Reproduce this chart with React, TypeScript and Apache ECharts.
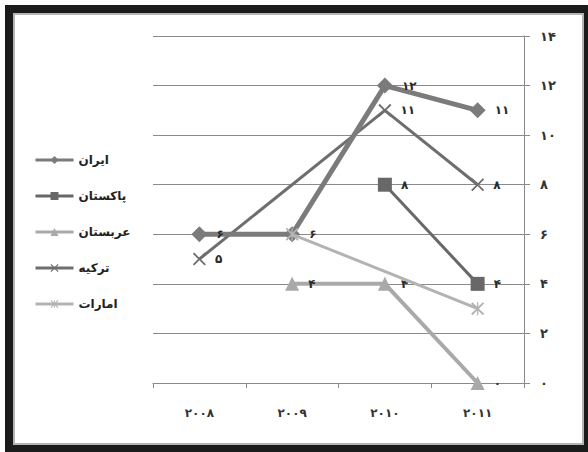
import React, { useEffect, useRef } from "react";
import * as echarts from "echarts";

const categories = ["2008", "2009", "2010", "2011"];
const seriesNames = ["ایران", "پاکستان", "عربستان", "ترکیه", "امارات"];
const iran = [6, 6, 12, 11];
const pakistan = [null, null, 8, 4];
const arabia = [null, 4, 4, 0];
const turkey = [5, null, 11, 8];
const emirates = [null, 6, null, 3];
const yTicks = [0, 2, 4, 6, 8, 10, 12, 14];

const fa = (v: number | string) =>
  String(v).replace(/[0-9]/g, (d) => "۰۱۲۳۴۵۶۷۸۹"[Number(d)]);

const FONT = "DejaVu Sans";
const X_PATH =
  "path://M2,0L10,8L18,0L20,2L12,10L20,18L18,20L10,12L2,20L0,18L8,10L0,2Z";
const STAR_PATH =
  "path://M2,0L10,8L18,0L20,2L12,10L20,18L18,20L10,12L2,20L0,18L8,10L0,2ZM9,0L11,0L11,20L9,20Z";

export default function App() {
  const ref = useRef<HTMLDivElement>(null);
  useEffect(() => {
    document.body.style.margin = "0";
    const chart = echarts.init(ref.current!, null, { renderer: "svg" });
    const mk = (
      name: string,
      data: (number | null)[],
      color: string,
      width: number,
      symbol: string,
      size: number,
      z: number,
      showLabels: boolean
    ) => ({
      name,
      type: "line",
      data,
      connectNulls: true,
      symbol,
      symbolSize: size,
      z,
      lineStyle: { color, width },
      itemStyle: { color, borderColor: color, borderWidth: 0 },
      label: {
        show: showLabels,
        position: "right",
        distance: 9,
        fontFamily: FONT,
        fontSize: 12,
        fontWeight: "bold",
        color: "#2a2a2a",
        formatter: (p: any) => fa(p.value),
      },
    });
    chart.setOption({
      animation: false,
      backgroundColor: "transparent",
      legend: {
        orient: "vertical",
        left: 29,
        top: 148,
        itemGap: 22,
        itemWidth: 38,
        itemHeight: 10,
        align: "left",
        data: seriesNames,
        lineStyle: { width: 3 },
        textStyle: {
          fontFamily: FONT,
          fontSize: 12,
          lineHeight: 14,
          fontWeight: "bold",
          color: "#222",
        },
      },
      grid: { left: 153, right: 64, top: 36, bottom: 69 },
      xAxis: {
        type: "category",
        data: categories,
        boundaryGap: true,
        axisLine: { lineStyle: { color: "#8a8a8a", width: 1 } },
        axisTick: { show: true, length: 5, lineStyle: { color: "#8a8a8a" } },
        axisLabel: {
          margin: 24,
          fontFamily: FONT,
          fontSize: 12,
          fontWeight: "bold",
          color: "#333",
          formatter: (v: string) => fa(v),
        },
      },
      yAxis: {
        type: "value",
        position: "right",
        min: 0,
        max: 14,
        interval: 2,
        axisLine: { show: true, lineStyle: { color: "#8a8a8a", width: 1 } },
        axisTick: { show: true, length: 6, lineStyle: { color: "#8a8a8a" } },
        splitLine: { show: true, lineStyle: { color: "#8a8a8a", width: 1 } },
        axisLabel: {
          margin: 16,
          fontFamily: FONT,
          fontSize: 13,
          fontWeight: "bold",
          color: "#333",
          formatter: (v: number) => (yTicks.includes(v) ? fa(v) : ""),
        },
      },
      series: [
        mk(seriesNames[0], iran, "#7b7b7b", 5, "diamond", 16, 4, true),
        mk(seriesNames[1], pakistan, "#686868", 3, "rect", 14, 3, true),
        mk(seriesNames[2], arabia, "#a9a9a9", 4, "triangle", 14, 3, true),
        mk(seriesNames[3], turkey, "#6e6e6e", 3, X_PATH, 13, 2, true),
        mk(seriesNames[4], emirates, "#b3b3b3", 3, STAR_PATH, 13, 5, false),
      ],
    });
    return () => chart.dispose();
  }, []);
  return (
    <div style={{ position: "relative", width: 588, height: 452, background: "#fff" }}>
      <div
        style={{
          position: "absolute",
          left: 5,
          top: 5,
          width: 583,
          height: 447,
          background: "#1b1b1b",
        }}
      />
      <div
        style={{
          position: "absolute",
          left: 13,
          top: 13,
          width: 567,
          height: 428,
          background: "#fff",
          border: "2px solid #b4b4b4",
        }}
      />
      <div
        ref={ref}
        style={{ position: "absolute", left: 0, top: 0, width: 588, height: 452 }}
      />
    </div>
  );
}
